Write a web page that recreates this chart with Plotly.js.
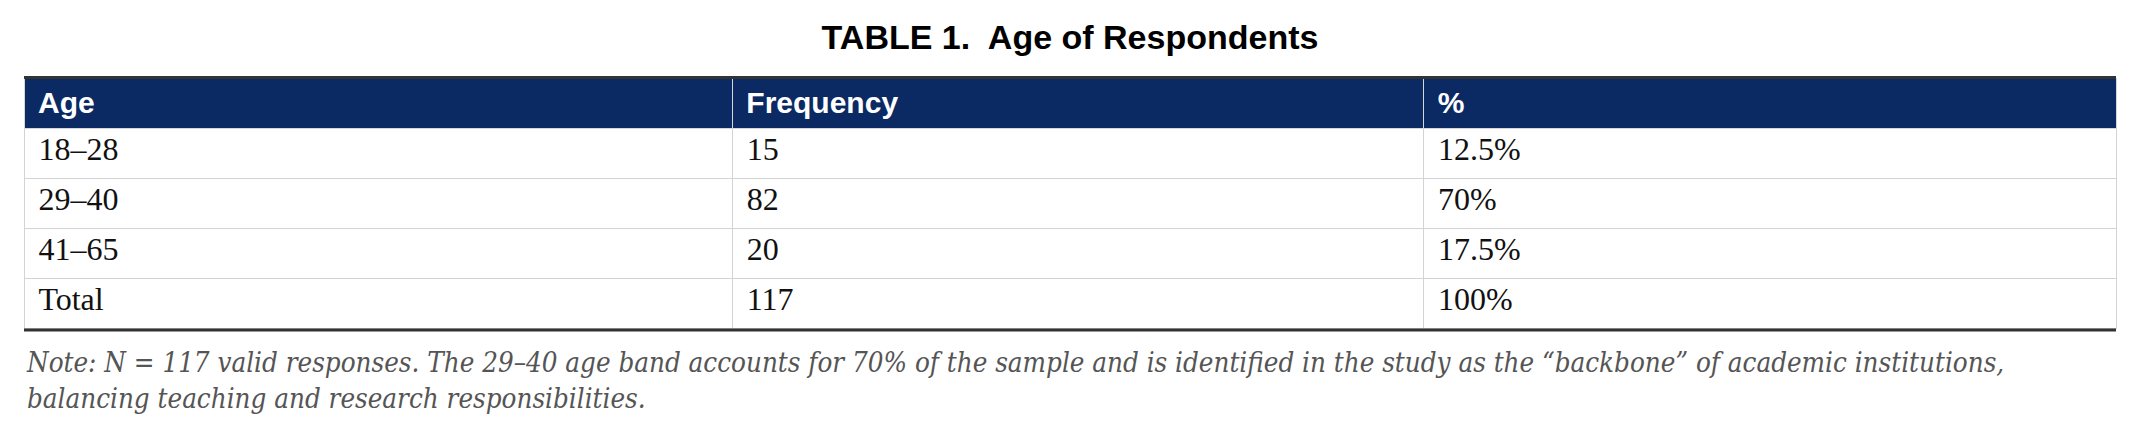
<!DOCTYPE html>
<html>
<head>
<meta charset="utf-8">
<script src="https://cdn.plot.ly/plotly-3.0.1.min.js"></script>
<style>html,body{margin:0;padding:0;background:#fff;}#chart{width:2140px;height:442px;}</style>
</head>
<body>
<div id="chart"></div>
<script>
// ---- data ----
const headers = ["Age", "Frequency", "%"];
const ageBands = ["18–28", "29–40", "41–65", "Total"];
const frequencies = ["15", "82", "20", "117"];
const percents = ["12.5%", "70%", "17.5%", "100%"];
const titleText = "TABLE 1.\u00a0 Age of Respondents";
const noteLines = [
  "Note: N = 117 valid responses. The 29–40 age band accounts for 70% of the sample and is identified in the study as the “backbone” of academic institutions,",
  "balancing teaching and research responsibilities."
];

const W = 2140, H = 442;
const x0 = 24 / W, x1 = 2116 / W;
const yTop = 1 - 78 / H, yBot = 1 - 329 / H;

const trace = {
  type: "table",
  domain: {x: [x0, x1], y: [yBot, yTop]},
  columnwidth: [708, 691, 692],
  header: {
    values: headers.map(h => "<b>" + h + "</b>"),
    prefix: "\u2009",
    align: "left",
    height: 50,
    fill: {color: "#0b2a63"},
    line: {color: "#d6d6d6", width: 1},
    font: {family: "Liberation Sans, Arial, sans-serif", size: 30, color: "#ffffff"}
  },
  cells: {
    values: [ageBands, frequencies, percents],
    prefix: "\u2009",
    align: "left",
    height: 50,
    fill: {color: "#ffffff"},
    line: {color: "#d3d3d3", width: 1},
    font: {family: "Liberation Serif, Times New Roman, serif", size: 32, color: "#111111"}
  }
};

const layout = {
  width: W, height: H,
  margin: {l: 0, r: 0, t: 0, b: 0},
  paper_bgcolor: "#ffffff",
  title: {
    text: "<b>" + titleText + "</b>",
    x: 0.5, xanchor: "center",
    y: 1 - 37 / H, yanchor: "middle",
    font: {family: "Liberation Sans, Arial, sans-serif", size: 34, color: "#000000"}
  },
  shapes: [
    {type: "line", xref: "paper", yref: "paper", x0: x0, x1: x1, y0: 1 - 77.5 / H, y1: 1 - 77.5 / H,
     line: {color: "#333333", width: 3}},
    {type: "line", xref: "paper", yref: "paper", x0: x0, x1: x1, y0: 1 - 330 / H, y1: 1 - 330 / H,
     line: {color: "#333333", width: 3}}
  ],
  annotations: [{
    text: noteLines.map(l => "<i>" + l + "</i>").join("<br>"),
    xref: "paper", yref: "paper",
    x: x0, xanchor: "left",
    y: 1 - 344 / H, yanchor: "top",
    align: "left", showarrow: false,
    font: {family: "DejaVu Serif Condensed, DejaVu Serif, serif", size: 27.5, color: "#555555"}
  }]
};

Plotly.newPlot("chart", [trace], layout, {displayModeBar: false, staticPlot: true});
</script>
</body>
</html>
